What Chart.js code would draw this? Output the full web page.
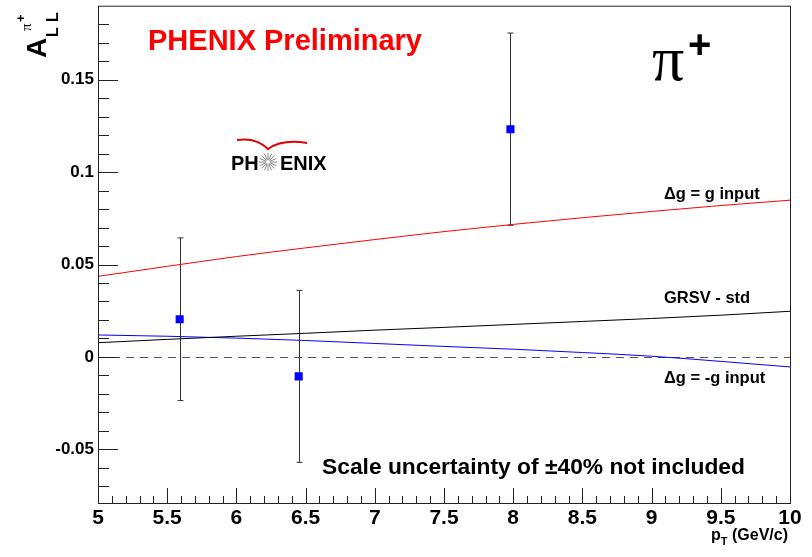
<!DOCTYPE html>
<html>
<head>
<meta charset="utf-8">
<script src="https://cdn.jsdelivr.net/npm/chart.js@4.4.1/dist/chart.umd.min.js"></script>
<style>
  html, body { margin: 0; padding: 0; background: #fff; }
  #grafico { display: block; }
</style>
</head>
<body>
<canvas id="grafico" width="812" height="557"></canvas>
<script>
// medicion A_LL pi+ (run 2005, preliminar)
const ptPuntos = [5.59, 6.45, 7.98];
const allPuntos = [0.0204, -0.0105, 0.1232];
const errPuntos = [0.044, 0.0465, 0.052];

// curvas teoricas GRSV
const ptCurva = [5, 5.5, 6, 6.5, 7, 7.5, 8, 8.5, 9, 9.5, 10];
const curvaGInput = [0.0436, 0.049, 0.0543, 0.059, 0.0635, 0.0678, 0.0717, 0.0753, 0.0787, 0.0819, 0.0848];
const curvaStd = [0.0077, 0.0095, 0.0112, 0.0128, 0.0145, 0.016, 0.0176, 0.0192, 0.0208, 0.0226, 0.0247];
const curvaMenosG = [0.0119, 0.0112, 0.0102, 0.0089, 0.0073, 0.0057, 0.0042, 0.0024, 0.0004, -0.0024, -0.0054];

const ticksX = [5, 5.5, 6, 6.5, 7, 7.5, 8, 8.5, 9, 9.5, 10];
const ticksY = [-0.05, 0, 0.05, 0.1, 0.15];

const fuente = '"Liberation Sans", Arial, sans-serif';
const canvasGrafico = document.getElementById("grafico");

function aPuntos(xs, ys) {
  return xs.map((x, i) => ({ x, y: ys[i] }));
}

// marco, ticks hacia dentro, barras de error y textos estilo ROOT
const decoracion = {
  id: "decoracion",
  beforeDatasetsDraw(chart) {
    const { ctx, chartArea: a, scales } = chart;
    const sx = scales.x, sy = scales.y;
    ctx.save();
    // linea de cero punteada
    ctx.strokeStyle = "#555";
    ctx.lineWidth = 1;
    ctx.setLineDash([8, 6]);
    ctx.beginPath();
    ctx.moveTo(a.left, Math.round(sy.getPixelForValue(0)) + 0.5);
    ctx.lineTo(a.right, Math.round(sy.getPixelForValue(0)) + 0.5);
    ctx.stroke();
    ctx.setLineDash([]);
    // barras de error
    ctx.strokeStyle = "#333";
    ptPuntos.forEach((pt, i) => {
      const px = Math.round(sx.getPixelForValue(pt)) + 0.5;
      const top = sy.getPixelForValue(allPuntos[i] + errPuntos[i]);
      const bot = sy.getPixelForValue(allPuntos[i] - errPuntos[i]);
      ctx.beginPath();
      ctx.moveTo(px, top);
      ctx.lineTo(px, bot);
      ctx.moveTo(px - 3, top);
      ctx.lineTo(px + 3, top);
      ctx.moveTo(px - 3, bot);
      ctx.lineTo(px + 3, bot);
      ctx.stroke();
    });
    ctx.restore();
  },
  afterDraw(chart) {
    const { ctx, chartArea: a, scales } = chart;
    const sx = scales.x, sy = scales.y;
    ctx.save();
    ctx.strokeStyle = "#222";
    ctx.lineWidth = 1;
    ctx.strokeRect(a.left + 0.5, a.top + 0.5, a.right - a.left, a.bottom - a.top);

    // ticks eje x (cada 0.1, mayores cada 0.5)
    ctx.beginPath();
    for (let k = 50; k <= 100; k++) {
      const px = Math.round(sx.getPixelForValue(k / 10)) + 0.5;
      const largo = k % 5 === 0 ? 15 : 7;
      ctx.moveTo(px, a.bottom);
      ctx.lineTo(px, a.bottom - largo);
    }
    // ticks eje y (cada 0.01, mayores cada 0.05)
    for (let k = -7; k <= 18; k++) {
      const py = Math.round(sy.getPixelForValue(k / 100)) + 0.5;
      const largo = k % 5 === 0 ? 20 : 11;
      ctx.moveTo(a.left, py);
      ctx.lineTo(a.left + largo, py);
    }
    ctx.stroke();

    ctx.fillStyle = "#000";
    ctx.textBaseline = "alphabetic";
    ctx.textAlign = "left";

    // etiquetas de las curvas
    ctx.font = "bold 16.5px " + fuente;
    ctx.fillText("\u0394g = g input", 664, 199);
    ctx.fillText("GRSV - std", 664, 303);
    ctx.fillText("\u0394g = -g input", 664, 383);

    ctx.font = "bold 22.8px " + fuente;
    ctx.fillText("Scale uncertainty of \u00b140% not included", 322, 474);

    ctx.fillStyle = "#ff0000";
    ctx.font = "bold 29px " + fuente;
    ctx.fillText("PHENIX Preliminary", 148, 50);

    // pi+
    ctx.fillStyle = "#000";
    ctx.font = '64px "Liberation Serif", "Times New Roman", serif';
    ctx.fillText("\u03c0", 652, 80);
    ctx.font = "bold 40px " + fuente;
    ctx.fillText("+", 688, 58);

    // logo PHENIX
    ctx.font = "bold 20px " + fuente;
    ctx.fillText("PH", 231, 170);
    ctx.fillText("ENIX", 280, 170);
    ctx.strokeStyle = "#888";
    ctx.lineWidth = 1;
    ctx.beginPath();
    for (let k = 0; k < 16; k++) {
      const ang = (k / 16) * Math.PI * 2;
      ctx.moveTo(268 + Math.cos(ang) * 2, 162 + Math.sin(ang) * 2);
      ctx.lineTo(268 + Math.cos(ang) * 9, 162 + Math.sin(ang) * 9);
    }
    ctx.stroke();
    ctx.strokeStyle = "#e00000";
    ctx.lineWidth = 2;
    ctx.beginPath();
    ctx.moveTo(237, 140);
    ctx.quadraticCurveTo(256, 137, 268, 149);
    ctx.quadraticCurveTo(282, 139, 307, 143);
    ctx.stroke();

    // titulo eje x
    ctx.fillStyle = "#000";
    ctx.font = "bold 16px " + fuente;
    ctx.textAlign = "left";
    const resto = " (GeV/c)";
    const wResto = ctx.measureText(resto).width;
    const wP = ctx.measureText("p").width;
    ctx.font = "bold 11px " + fuente;
    const wT = ctx.measureText("T").width;
    const x0 = 788 - wResto - wT - wP;
    ctx.font = "bold 16px " + fuente;
    ctx.fillText("p", x0, 540);
    ctx.fillText(resto, x0 + wP + wT, 540);
    ctx.font = "bold 11px " + fuente;
    ctx.fillText("T", x0 + wP, 545);

    // titulo eje y: A_LL^{pi+}
    ctx.save();
    ctx.translate(46, 58);
    ctx.rotate(-Math.PI / 2);
    ctx.font = "bold 28px " + fuente;
    ctx.fillText("A", 0, 0);
    ctx.restore();
    ctx.save();
    ctx.translate(58, 37);
    ctx.rotate(-Math.PI / 2);
    ctx.font = "bold 16px " + fuente;
    ctx.fillText("L", 0, 0);
    ctx.fillText("L", 15, 0);
    ctx.restore();
    ctx.save();
    ctx.translate(31, 31);
    ctx.rotate(-Math.PI / 2);
    ctx.font = '15px "Liberation Serif", serif';
    ctx.fillText("\u03c0", 0, 0);
    ctx.font = "bold 13px " + fuente;
    ctx.fillText("+", 9, -6);
    ctx.restore();

    ctx.restore();
  },
};

const config = {
  type: "scatter",
  data: {
    datasets: [
      {
        label: "dg = g",
        data: aPuntos(ptCurva, curvaGInput),
        showLine: true,
        borderColor: "#ff0000",
        borderWidth: 1,
        pointRadius: 0,
        cubicInterpolationMode: "monotone",
      },
      {
        label: "GRSV std",
        data: aPuntos(ptCurva, curvaStd),
        showLine: true,
        borderColor: "#000000",
        borderWidth: 1,
        pointRadius: 0,
        cubicInterpolationMode: "monotone",
      },
      {
        label: "dg = -g",
        data: aPuntos(ptCurva, curvaMenosG),
        showLine: true,
        borderColor: "#0000ff",
        borderWidth: 1,
        pointRadius: 0,
        cubicInterpolationMode: "monotone",
      },
      {
        label: "A_LL",
        data: aPuntos(ptPuntos, allPuntos),
        pointStyle: "rect",
        pointRadius: 5.7,
        backgroundColor: "#0000ff",
        borderColor: "#0000ff",
        borderWidth: 0,
      },
    ],
  },
  options: {
    responsive: false,
    animation: false,
    layout: { padding: { left: 0, right: 22, top: 5, bottom: 0 } },
    plugins: { legend: { display: false }, tooltip: { enabled: false } },
    scales: {
      x: {
        type: "linear",
        min: 5,
        max: 10,
        grid: { display: false, drawTicks: false },
        border: { display: false },
        afterBuildTicks: (s) => { s.ticks = ticksX.map((v) => ({ value: v })); },
        afterFit: (s) => {
          s.height = 54;
          s.paddingLeft = 0;
          s.paddingRight = 0;
        },
        ticks: {
          color: "#000",
          padding: 3,
          maxRotation: 0,
          autoSkip: false,
          font: { family: fuente, size: 21, weight: "bold" },
          callback: (v) => String(v),
        },
      },
      y: {
        type: "linear",
        min: -0.079,
        max: 0.19,
        grid: { display: false, drawTicks: false },
        border: { display: false },
        afterBuildTicks: (s) => { s.ticks = ticksY.map((v) => ({ value: v })); },
        afterFit: (s) => {
          s.width = 98;
          s.paddingTop = 0;
          s.paddingBottom = 0;
        },
        ticks: {
          color: "#000",
          padding: 4,
          autoSkip: false,
          font: { family: fuente, size: 17, weight: "bold" },
          callback: (v) => String(v),
        },
      },
    },
  },
  plugins: [decoracion],
};

window.miGrafico = new Chart(canvasGrafico, config);
</script>
</body>
</html>
